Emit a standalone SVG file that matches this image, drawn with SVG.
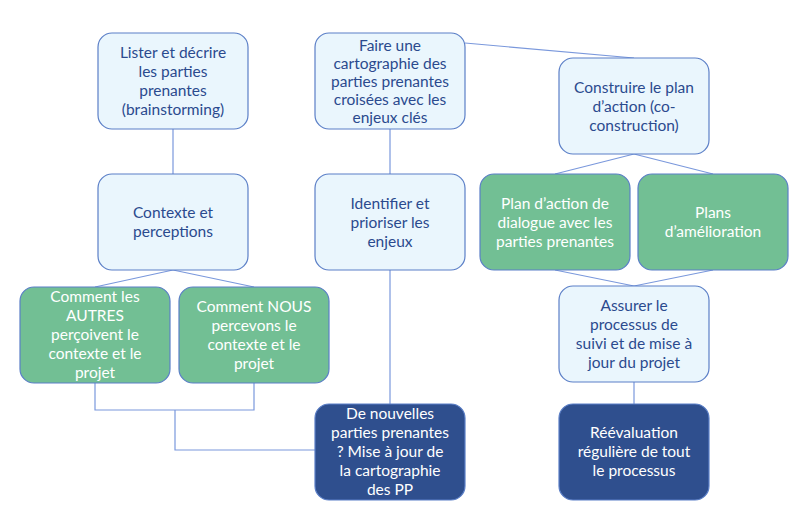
<svg xmlns="http://www.w3.org/2000/svg" width="810" height="521" viewBox="0 0 810 521">
<style>
rect{stroke:#5b7fc7;stroke-width:1.2}
.l{fill:#eaf6fd}.g{fill:#72bf94}.d{fill:#2f4f8e}
text{font-family:Lato,"Open Sans",sans-serif;font-size:15.5px;text-anchor:middle}
.tl{fill:#2b4a8e}.tw{fill:#ffffff}
#c line,#c polyline{stroke:#7a98dc;stroke-width:1.2;fill:none}
</style>
<rect width="810" height="521" fill="#fff" style="stroke:none"/>
<g id="c">
<line x1="173" y1="129" x2="173" y2="174"/>
<line x1="173" y1="270" x2="95" y2="287"/>
<line x1="173" y1="270" x2="254" y2="287"/>
<polyline points="95,383 95,410 254,410 254,383"/>
<polyline points="175,410 175,450 315,450"/>
<line x1="390" y1="129" x2="390" y2="174"/>
<line x1="390" y1="270" x2="390" y2="404"/>
<line x1="465" y1="43" x2="634" y2="58"/>
<line x1="634" y1="154" x2="555" y2="174"/>
<line x1="634" y1="154" x2="713" y2="174"/>
<line x1="555" y1="270" x2="634" y2="286"/>
<line x1="713" y1="270" x2="634" y2="286"/>
<line x1="634" y1="382" x2="634" y2="404"/>
</g>
<g id="n1"><rect class="l" x="98" y="33" width="150" height="96" rx="14"/><text class="tl"><tspan x="173" y="58">Lister et décrire</tspan><tspan x="173" y="77">les parties</tspan><tspan x="173" y="96">prenantes</tspan><tspan x="173" y="115">(brainstorming)</tspan></text></g>
<g id="n2"><rect class="l" x="98" y="174" width="150" height="96" rx="14"/><text class="tl"><tspan x="173" y="218">Contexte et</tspan><tspan x="173" y="237">perceptions</tspan></text></g>
<g id="n3"><rect class="g" x="20" y="287" width="150" height="96" rx="14"/><text class="tw"><tspan x="95" y="302">Comment les</tspan><tspan x="95" y="321">AUTRES</tspan><tspan x="95" y="340">perçoivent le</tspan><tspan x="95" y="359">contexte et le</tspan><tspan x="95" y="378">projet</tspan></text></g>
<g id="n4"><rect class="g" x="179" y="287" width="150" height="96" rx="14"/><text class="tw"><tspan x="254" y="312">Comment NOUS</tspan><tspan x="254" y="331">percevons le</tspan><tspan x="254" y="350">contexte et le</tspan><tspan x="254" y="369">projet</tspan></text></g>
<g id="n5"><rect class="l" x="315" y="33" width="150" height="96" rx="14"/><text class="tl"><tspan x="390" y="51">Faire une</tspan><tspan x="390" y="69">cartographie des</tspan><tspan x="390" y="87">parties prenantes</tspan><tspan x="390" y="105">croisées avec les</tspan><tspan x="390" y="123">enjeux clés</tspan></text></g>
<g id="n6"><rect class="l" x="315" y="174" width="150" height="96" rx="14"/><text class="tl"><tspan x="390" y="209">Identifier et</tspan><tspan x="390" y="228">prioriser les</tspan><tspan x="390" y="247">enjeux</tspan></text></g>
<g id="n7"><rect class="d" x="315" y="404" width="150" height="96" rx="14"/><text class="tw"><tspan x="390" y="419">De nouvelles</tspan><tspan x="390" y="438">parties prenantes</tspan><tspan x="390" y="457">? Mise à jour de</tspan><tspan x="390" y="476">la cartographie</tspan><tspan x="390" y="495">des PP</tspan></text></g>
<g id="n8"><rect class="l" x="559" y="58" width="150" height="96" rx="14"/><text class="tl"><tspan x="634" y="93">Construire le plan</tspan><tspan x="634" y="112">d’action (co-</tspan><tspan x="634" y="131">construction)</tspan></text></g>
<g id="n9"><rect class="g" x="480" y="174" width="150" height="96" rx="14"/><text class="tw"><tspan x="555" y="209">Plan d’action de</tspan><tspan x="555" y="228">dialogue avec les</tspan><tspan x="555" y="247">parties prenantes</tspan></text></g>
<g id="n10"><rect class="g" x="638" y="174" width="150" height="96" rx="14"/><text class="tw"><tspan x="713" y="218">Plans</tspan><tspan x="713" y="237">d’amélioration</tspan></text></g>
<g id="n11"><rect class="l" x="559" y="286" width="150" height="96" rx="14"/><text class="tl"><tspan x="634" y="311">Assurer le</tspan><tspan x="634" y="330">processus de</tspan><tspan x="634" y="349">suivi et de mise à</tspan><tspan x="634" y="368">jour du projet</tspan></text></g>
<g id="n12"><rect class="d" x="559" y="404" width="150" height="96" rx="14"/><text class="tw"><tspan x="634" y="438">Réévaluation</tspan><tspan x="634" y="457">régulière de tout</tspan><tspan x="634" y="476">le processus</tspan></text></g>
</svg>
